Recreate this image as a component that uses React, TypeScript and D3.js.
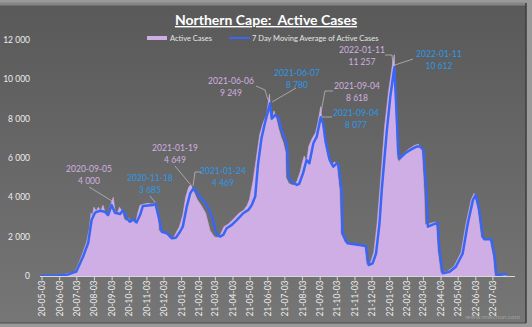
import React from "react";
import * as d3 from "d3";

const yTicks = [0, 2000, 4000, 6000, 8000, 10000, 12000];

const xTickLabels = [
  "20-05-03", "20-06-03", "20-07-03", "20-08-03", "20-09-03", "20-10-03", "20-11-03", "20-12-03",
  "21-01-03", "21-02-03", "21-03-03", "21-04-03", "21-05-03", "21-06-03", "21-07-03", "21-08-03",
  "21-09-03", "21-10-03", "21-11-03", "21-12-03", "22-01-03", "22-02-03", "22-03-03", "22-04-03",
  "22-05-03", "22-06-03", "22-07-03",
];

const activeDates = [
  "2020-05-03", "2020-06-01", "2020-06-30", "2020-07-10", "2020-07-20", "2020-07-25", "2020-07-28", "2020-07-30",
  "2020-08-02", "2020-08-06", "2020-08-10", "2020-08-14", "2020-08-18", "2020-08-22", "2020-08-26", "2020-08-30",
  "2020-09-05", "2020-09-08", "2020-09-12", "2020-09-16", "2020-09-20", "2020-09-24", "2020-09-28", "2020-10-02",
  "2020-10-06", "2020-10-10", "2020-10-14", "2020-10-18", "2020-10-22", "2020-10-28", "2020-11-05", "2020-11-12",
  "2020-11-18", "2020-11-22", "2020-11-24", "2020-12-01", "2020-12-08", "2020-12-14", "2020-12-20", "2020-12-26",
  "2020-12-30", "2021-01-05", "2021-01-10", "2021-01-15", "2021-01-19", "2021-01-24", "2021-01-30", "2021-02-06",
  "2021-02-14", "2021-02-22", "2021-03-01", "2021-03-06", "2021-03-12", "2021-03-18", "2021-03-26", "2021-04-04",
  "2021-04-14", "2021-04-22", "2021-04-28", "2021-05-02", "2021-05-08", "2021-05-14", "2021-05-20", "2021-05-26",
  "2021-06-01", "2021-06-06", "2021-06-08", "2021-06-10", "2021-06-14", "2021-06-18", "2021-06-22", "2021-06-26",
  "2021-06-30", "2021-07-04", "2021-07-05", "2021-07-10", "2021-07-18", "2021-07-24", "2021-07-30", "2021-08-02",
  "2021-08-06", "2021-08-10", "2021-08-14", "2021-08-20", "2021-08-26", "2021-08-30", "2021-09-04", "2021-09-06",
  "2021-09-10", "2021-09-16", "2021-09-22", "2021-09-28", "2021-10-02", "2021-10-07", "2021-10-09", "2021-10-16",
  "2021-10-30", "2021-11-15", "2021-11-20", "2021-11-23", "2021-11-30", "2021-12-06", "2021-12-12", "2021-12-17",
  "2021-12-25", "2022-01-01", "2022-01-08", "2022-01-11", "2022-01-13", "2022-01-16", "2022-01-19", "2022-01-27",
  "2022-02-05", "2022-02-16", "2022-02-22", "2022-02-28", "2022-03-04", "2022-03-06", "2022-03-25", "2022-03-28",
  "2022-04-02", "2022-04-15", "2022-04-26", "2022-05-08", "2022-05-17", "2022-05-26", "2022-05-31", "2022-06-06",
  "2022-06-12", "2022-06-15", "2022-06-27", "2022-07-03", "2022-07-06", "2022-07-12", "2022-07-26",
];
const activeValues = [
  0, 30, 200, 900, 1700, 2400, 3200, 3000,
  3500, 3300, 3500, 3300, 3600, 3200, 3000, 3500,
  4000, 3300, 3200, 3500, 3300, 2900, 2800, 2950,
  2700, 2800, 2650, 3200, 3600, 3650, 3700, 3650,
  3750, 3300, 2300, 2200, 2150, 1900, 1950, 2300,
  2500, 3100, 4000, 4500, 4649, 4300, 3900, 3600,
  3200, 2300, 2000, 1950, 2100, 2500, 2650, 2900,
  3200, 3350, 3600, 3900, 4800, 6000, 7200, 7800,
  8200, 9249, 8400, 7900, 8400, 8000, 7500, 7100,
  6800, 6300, 5000, 4700, 4600, 4800, 5300, 5700,
  6100, 5800, 6600, 7000, 7300, 7800, 8618, 7900,
  6900, 6000, 5600, 5800, 5700, 4300, 2200, 1700,
  1600, 1550, 1500, 600, 650, 1200, 2700, 4500,
  7600, 9400, 10800, 11257, 8500, 6000, 5800, 6200,
  6450, 6650, 6700, 6500, 4400, 2600, 2750, 1300,
  150, 250, 500, 1200, 2700, 3900, 4200, 3400,
  2000, 1900, 1900, 1000, 30, 60, 110,
];

const maDates = [
  "2020-05-03", "2020-06-02", "2020-06-18", "2020-07-02", "2020-07-14", "2020-07-23", "2020-07-29", "2020-08-04",
  "2020-08-13", "2020-08-21", "2020-08-27", "2020-09-02", "2020-09-08", "2020-09-17", "2020-09-22", "2020-09-29",
  "2020-10-04", "2020-10-10", "2020-10-16", "2020-10-22", "2020-10-27", "2020-11-14", "2020-11-18", "2020-11-20",
  "2020-11-26", "2020-11-29", "2020-12-08", "2020-12-17", "2020-12-24", "2020-12-31", "2021-01-05", "2021-01-12",
  "2021-01-18", "2021-01-24", "2021-02-04", "2021-02-16", "2021-02-25", "2021-03-05", "2021-03-11", "2021-03-17",
  "2021-03-23", "2021-04-01", "2021-04-10", "2021-04-21", "2021-04-30", "2021-05-06", "2021-05-12", "2021-05-17",
  "2021-05-23", "2021-05-29", "2021-06-07", "2021-06-10", "2021-06-16", "2021-06-22", "2021-06-27", "2021-07-03",
  "2021-07-07", "2021-07-09", "2021-07-15", "2021-07-24", "2021-07-28", "2021-08-04", "2021-08-10", "2021-08-15",
  "2021-08-22", "2021-08-28", "2021-09-04", "2021-09-08", "2021-09-13", "2021-09-20", "2021-09-26", "2021-10-02",
  "2021-10-05", "2021-10-11", "2021-10-12", "2021-10-21", "2021-11-22", "2021-11-27", "2021-12-04", "2021-12-10",
  "2021-12-16", "2021-12-20", "2021-12-29", "2022-01-04", "2022-01-11", "2022-01-15", "2022-01-18", "2022-01-21",
  "2022-01-30", "2022-02-08", "2022-02-19", "2022-02-25", "2022-03-03", "2022-03-08", "2022-03-11", "2022-03-28",
  "2022-03-31", "2022-04-06", "2022-04-18", "2022-04-29", "2022-05-11", "2022-05-20", "2022-05-29", "2022-06-03",
  "2022-06-09", "2022-06-15", "2022-06-18", "2022-06-30", "2022-07-06", "2022-07-09", "2022-07-14", "2022-07-26",
];
const maValues = [
  0, 20, 80, 220, 980, 1680, 2850, 3220,
  3320, 3270, 3100, 3610, 3220, 3150, 3340, 2930,
  2760, 2880, 2730, 3100, 3560, 3610, 3685, 3440,
  2700, 2250, 2170, 1920, 1950, 2250, 2510, 3530,
  4210, 4469, 4040, 3610, 3020, 2170, 2000, 2090,
  2430, 2600, 2850, 3190, 3360, 3610, 4040, 5700,
  7000, 7770, 8780, 8000, 8190, 8020, 7430, 7000,
  6580, 5050, 4800, 4630, 4680, 5230, 5900, 5730,
  6750, 7090, 8077, 7770, 6750, 5900, 5560, 5730,
  5650, 4210, 2170, 1660, 1530, 560, 640, 1150,
  2680, 4380, 7430, 9120, 10612, 8280, 6240, 5990,
  6240, 6410, 6580, 6580, 6410, 4380, 2510, 2710,
  1320, 140, 220, 470, 1150, 2680, 3870, 4120,
  3360, 2000, 1870, 1870, 980, 30, 50, 100,
];

// annotations: date, value label, series
const annDates = ["2020-09-05", "2020-11-18", "2021-01-19", "2021-01-24", "2021-06-06", "2021-06-07", "2021-09-04", "2021-09-04", "2022-01-11", "2022-01-11"];
const annValues = [4000, 3685, 4649, 4469, 9249, 8780, 8618, 8077, 11257, 10612];
const annSeries = ["a", "m", "a", "m", "a", "m", "a", "m", "a", "m"];

const W = 532;
const H = 327;
const AREA_COLOR = "#cfaee6";
const LINE_COLOR = "#3a66f5";
const PINK_TEXT = "#d2b0e0";
const BLUE_TEXT = "#2a98ec";
const FONT = "Lato, 'Open Sans', sans-serif";

const parse = d3.timeParse("%Y-%m-%d");

// label positions (center x, first-line baseline y) and leader polylines, in px
const annLayout: { cx: number; y: number; leader: [number, number][] }[] = [
  { cx: 89, y: 172, leader: [[89, 187], [112, 201]] },
  { cx: 150, y: 181, leader: [[150, 196], [155, 202]] },
  { cx: 175, y: 151, leader: [[175, 166], [190, 184]] },
  { cx: 223, y: 174, leader: [[201, 172], [195, 172], [193, 186]] },
  { cx: 231, y: 84, leader: [[256, 86], [265, 90], [268, 100]] },
  { cx: 297, y: 76, leader: [[296, 88], [272, 102]] },
  { cx: 357, y: 89, leader: [[333, 91], [325, 91], [321, 112]] },
  { cx: 356, y: 116, leader: [[332, 117], [322, 117]] },
  { cx: 362, y: 53, leader: [[385, 55], [392, 55], [393, 64]] },
  { cx: 439, y: 57, leader: [[413, 59], [395, 65]] },
];

function fmt(v: number) {
  return d3.format(",")(v).replace(/,/g, " ");
}

export default function App() {
  const x = d3
    .scaleTime()
    .domain([parse("2020-05-03")!, parse("2022-08-03")!])
    .range([42, 510.6]);
  const y = d3.scaleLinear().domain([0, 12000]).range([276, 40]);

  const active = activeDates.map((d, i) => ({ d: parse(d)!, v: activeValues[i] }));
  const ma = maDates.map((d, i) => ({ d: parse(d)!, v: maValues[i] }));

  const areaGen = d3
    .area<{ d: Date; v: number }>()
    .x((p) => x(p.d))
    .y0(y(0))
    .y1((p) => y(p.v));
  const lineGen = d3
    .line<{ d: Date; v: number }>()
    .x((p) => x(p.d))
    .y((p) => y(p.v));

  const monthTicks = xTickLabels.map((l) => parse("20" + l)!);

  return (
    <svg
      width={W}
      height={H}
      style={{ position: "absolute", left: 0, top: 0, display: "block" }}
      fontFamily={FONT}
    >
      <defs>
        <linearGradient id="bg" x1="0" y1="0" x2="0" y2="1">
          <stop offset="0" stopColor="#595959" />
          <stop offset="1" stopColor="#767676" />
        </linearGradient>
      </defs>
      <rect x={0} y={0} width={W} height={H} fill="#9a9a9a" />
      <rect x={0} y={3} width={526} height={320} fill="url(#bg)" />
      <line x1={0} y1={4} x2={526} y2={4} stroke="#858585" strokeWidth={3} />
      <line x1={526} y1={3} x2={526} y2={323} stroke="#3c3c3c" strokeWidth={1.5} />
      <line x1={0} y1={323} x2={526} y2={323} stroke="#4a4a4a" strokeWidth={1} />

      {/* title */}
      <text x={266} y={25} textAnchor="middle" fill="#ffffff" fontSize={14} fontWeight="bold" textDecoration="underline" style={{ whiteSpace: "pre" }}>
        {"Northern Cape:\u00a0 Active Cases"}
      </text>

      {/* legend */}
      <rect x={147} y={36} width={20} height={4} fill={AREA_COLOR} />
      <text x={170} y={40.5} fill="#e6e6e6" fontSize={7.5}>Active Cases</text>
      <line x1={229} y1={38} x2={250} y2={38} stroke={LINE_COLOR} strokeWidth={2} />
      <text x={252} y={40.5} fill="#e6e6e6" fontSize={7.5}>7 Day Moving Average of Active Cases</text>

      {/* y axis labels */}
      {yTicks.map((t) => (
        <text key={t} x={30} y={y(t) + 3} textAnchor="end" fill="#ececec" fontSize={8.5}>
          {fmt(t)}
        </text>
      ))}

      {/* series */}
      <path d={areaGen(active) || ""} fill={AREA_COLOR} stroke={AREA_COLOR} strokeWidth={0.6} />
      <path d={lineGen(ma) || ""} fill="none" stroke={LINE_COLOR} strokeWidth={2.5} strokeLinejoin="round" strokeLinecap="round" />

      {/* x axis */}
      <line x1={40} y1={276.5} x2={515} y2={276.5} stroke="#d8d8d8" strokeWidth={1} />
      {monthTicks.map((t, i) => (
        <g key={i} transform={`translate(${x(t)},276.5)`}>
          <line y1={0} y2={4} stroke="#d8d8d8" strokeWidth={1} />
          <text transform="rotate(-90)" x={-4} y={3} textAnchor="end" fill="#ececec" fontSize={8.5}>
            {xTickLabels[i]}
          </text>
        </g>
      ))}

      {/* annotations */}
      {annDates.map((d, i) => {
        const L = annLayout[i];
        const col = annSeries[i] === "a" ? PINK_TEXT : BLUE_TEXT;
        return (
          <g key={i}>
            <polyline
              points={L.leader.map((p) => p.join(",")).join(" ")}
              fill="none"
              stroke="#b8b8b8"
              strokeWidth={0.8}
            />
            <text x={L.cx} y={L.y} textAnchor="middle" fill={col} fontSize={8.5}>
              {d}
            </text>
            <text x={L.cx} y={L.y + 11.5} textAnchor="middle" fill={col} fontSize={8.5}>
              {fmt(annValues[i])}
            </text>
          </g>
        );
      })}

      {/* watermark */}
      <text x={520} y={319} textAnchor="end" fill="#a0a0a0" fontSize={6.5}>
        www.mwchun.com
      </text>
    </svg>
  );
}
